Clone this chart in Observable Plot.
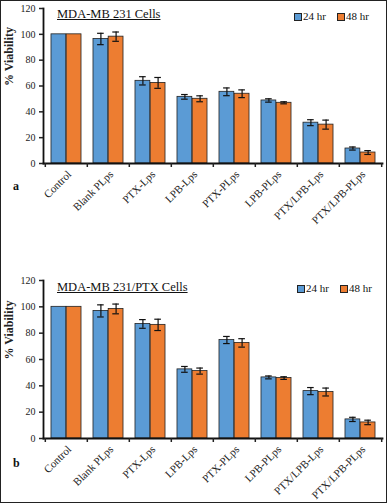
<!DOCTYPE html>
<html><head><meta charset="utf-8">
<script src="https://cdn.jsdelivr.net/npm/d3@7"></script>
<script src="https://cdn.jsdelivr.net/npm/@observablehq/plot@0.6"></script>
<style>
html,body{margin:0;padding:0;background:#fff;}
#wrap{position:relative;width:387px;height:503px;overflow:hidden;font-family:"Liberation Serif","Times New Roman",serif;color:#111;}
#border{position:absolute;left:0;top:0;width:387px;height:503px;box-sizing:border-box;border:1px solid #222;pointer-events:none;}
.panel{position:absolute;left:0;}
.title{position:absolute;font-size:12.5px;line-height:1;text-decoration:underline;white-space:nowrap;}
.leg{position:absolute;font-size:11px;line-height:1;white-space:nowrap;display:flex;align-items:center;}
.sw{display:inline-block;width:6px;height:6px;border:1px solid #222;margin-right:1px;}
.tag{position:absolute;font-size:12px;font-weight:bold;line-height:1;}
</style></head>
<body>
<div id="wrap">
  <div class="panel" id="pa" style="top:0"></div>
  <div class="panel" id="pb" style="top:272px"></div>
  <div class="title" style="left:57px;top:8px">MDA-MB 231 Cells</div>
  <div class="title" style="left:57px;top:280.5px">MDA-MB 231/PTX Cells</div>
  <div class="leg" id="lega" style="left:294px;top:11px"></div>
  <div class="leg" id="legb" style="left:297px;top:283px"></div>
  <div class="tag" style="left:13px;top:180px">a</div>
  <div class="tag" style="left:13px;top:457px">b</div>
  <div id="border"></div>
</div>
<script>
const categories = ["Control","Blank PLps","PTX-Lps","LPB-Lps","PTX-PLps","LPB-PLps","PTX/LPB-Lps","PTX/LPB-PLps"];
const seriesNames = ["24 hr","48 hr"];
const seriesColors = ["#5B9BD5","#ED7D31"];
const yTicks = [0,20,40,60,80,100,120];
const yLabel = "% Viability";

// Panel a: MDA-MB 231 Cells
const a24 = [100,96.4,64.0,51.6,55.5,48.8,31.6,11.6];
const a24err = [0,4.4,3.2,1.8,3.0,1.3,2.3,1.2];
const a48 = [100,98.2,62.4,50.1,54.0,47.0,30.1,8.5];
const a48err = [0,3.6,4.2,2.3,3.0,0.8,3.5,1.5];

// Panel b: MDA-MB 231/PTX Cells
const b24 = [100,96.9,87.0,52.5,74.8,46.4,36.0,14.5];
const b24err = [0,4.6,3.3,2.2,2.7,1.1,2.7,1.6];
const b48 = [100,98.4,86.3,51.2,72.6,45.9,35.3,12.2];
const b48err = [0,3.7,4.3,2.3,3.2,1.0,3.0,1.7];

const W = 387, ML = 43, MR = 5;
const bw = (W - ML - MR) / categories.length;
const barW = 15.2;
const gap = (bw - 2 * barW) / 2;
const capHalf = 3.5;
const font = "'Liberation Serif','Times New Roman',serif";

function chart(v24, e24, v48, e48, height, marginBottom) {
  const rows = categories.flatMap((c, i) => [
    {cat: c, series: seriesNames[0], value: v24[i], err: e24[i]},
    {cat: c, series: seriesNames[1], value: v48[i], err: e48[i]}
  ]);
  const s0 = rows.filter(d => d.series === seriesNames[0]);
  const s1 = rows.filter(d => d.series === seriesNames[1]);
  const pos = [
    {data: s0, left: gap, right: bw - gap - barW, dx: -barW / 2},
    {data: s1, left: gap + barW, right: gap, dx: barW / 2}
  ];
  const marks = [];
  for (const p of pos) {
    marks.push(Plot.barY(p.data, {x: "cat", y: "value", fill: "series", stroke: "#222", strokeWidth: 0.8,
      insetLeft: p.left, insetRight: p.right}));
  }
  for (const p of pos) {
    const e = p.data.filter(d => d.err > 0);
    const cl = bw / 2 + p.dx - capHalf;
    const cr = bw - (bw / 2 + p.dx + capHalf);
    marks.push(Plot.ruleX(e, {x: "cat", y1: d => d.value - d.err, y2: d => d.value + d.err, dx: p.dx, stroke: "#111", strokeWidth: 1.2}));
    marks.push(Plot.tickY(e, {x: "cat", y: d => d.value + d.err, insetLeft: cl, insetRight: cr, stroke: "#111", strokeWidth: 1.2}));
    marks.push(Plot.tickY(e, {x: "cat", y: d => d.value - d.err, insetLeft: cl, insetRight: cr, stroke: "#111", strokeWidth: 1.2}));
  }
  marks.push(Plot.frame({anchor: "left", stroke: "#111", strokeWidth: 1.8}));
  marks.push(Plot.frame({anchor: "bottom", stroke: "#111", strokeWidth: 1.8}));
  marks.push(Plot.axisY(yTicks, {tickSize: 4, tickPadding: 4, strokeWidth: 1.5, fontSize: 10, label: null, fill: "#222"}));
  marks.push(Plot.axisX({tickSize: 0, tickRotate: -45, tickPadding: 4, dx: 3, dy: 5, fontSize: 11, label: null, fill: "#222"}));
  marks.push(Plot.axisX({tickSize: 4, tickFormat: () => "", dx: -bw / 2, strokeWidth: 1.5, label: null}));
  marks.push(Plot.axisX([categories[categories.length - 1]], {tickSize: 4, tickFormat: () => "", dx: bw / 2, strokeWidth: 1.5, label: null}));
  marks.push(Plot.text([yLabel], {frameAnchor: "left", rotate: -90, dx: -34.5, fontSize: 12, fontWeight: "bold", fill: "#222"}));
  return Plot.plot({
    width: W, height, marginLeft: ML, marginRight: MR, marginTop: 8, marginBottom,
    style: {fontFamily: font, fontSize: "10px", background: "transparent", color: "#222", overflow: "visible"},
    x: {type: "band", domain: categories, padding: 0},
    y: {domain: [0, 120]},
    color: {domain: seriesNames, range: seriesColors},
    marks
  });
}

document.getElementById("pa").appendChild(chart(a24, a24err, a48, a48err, 260, 97));
document.getElementById("pb").appendChild(chart(b24, b24err, b48, b48err, 231, 65));

for (const id of ["lega", "legb"]) {
  const el = document.getElementById(id);
  seriesNames.forEach((n, i) => {
    const sw = document.createElement("span");
    sw.className = "sw"; sw.style.background = seriesColors[i];
    if (i > 0) sw.style.marginLeft = "11px";
    el.appendChild(sw);
    el.appendChild(document.createTextNode(n));
  });
}
</script>
</body></html>
